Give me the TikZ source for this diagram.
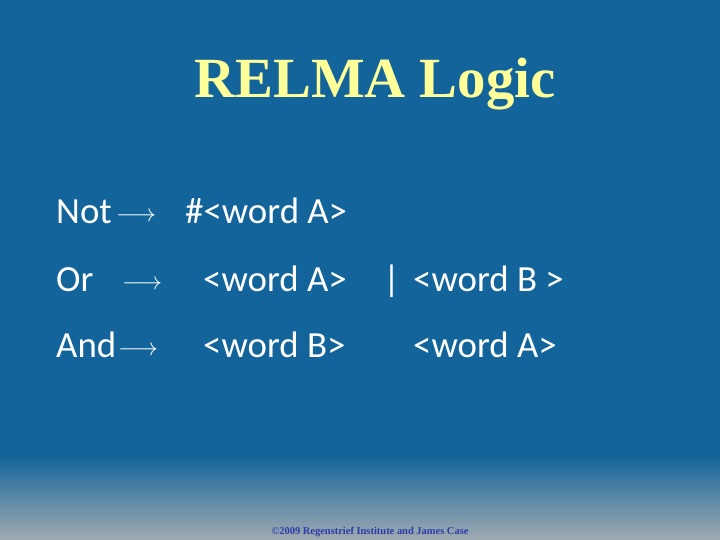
\documentclass[tikz,border=0pt]{standalone}
\usepackage{amsmath}
\usepackage{fontspec}
\setmainfont{Carlito}
\newfontfamily\titlefont{Liberation Serif}
\usetikzlibrary{positioning}
\definecolor{bg}{HTML}{12649A}
\definecolor{bot}{HTML}{A0ABB2}
\definecolor{ttl}{HTML}{FFFF99}
\definecolor{foot}{HTML}{2E3BA8}
\tikzset{body/.style={anchor=base west,inner sep=0pt,text=white,font=\fontsize{37}{44}\selectfont},
 arr/.style={anchor=base west,inner sep=0pt,text=white,font=\fontsize{40}{44}\selectfont}}
\begin{document}
\begin{tikzpicture}[x=1bp,y=-1bp]
\fill[bg] (0,0) rectangle (720,540);
\shade[top color=bg,bottom color=bot] (0,455) rectangle (720,540);
\useasboundingbox (0,0) rectangle (720,540);
\node[anchor=base,inner sep=0pt,text=ttl,font=\titlefont\bfseries\fontsize{57}{62}\selectfont] (t) at (375,98) {RELMA Logic};
\node[body] (n1) at (56,224) {Not};
\node[arr] (a1) at (116,222) {$\longrightarrow$};
\node[body] (n2) at (185,224) {\#<word A>};
\node[body] (o1) at (56,291) {Or};
\node[arr] (a2) at (122,289) {$\longrightarrow$};
\node[body] (o2) at (203,291) {<word A>};
\node[body] (o3) at (383,291) {|};
\node[body] (o4) at (413,291) {<word B >};
\node[body] (d1) at (56,357) {And};
\node[arr] (a3) at (118,355) {$\longrightarrow$};
\node[body] (d2) at (203,357) {<word B>};
\node[body] (d3) at (413,357) {<word A>};
\node[anchor=base,inner sep=0pt,text=foot,font=\titlefont\bfseries\fontsize{10.5}{12}\selectfont] (f) at (370,534) {\textcopyright 2009 Regenstrief Institute and James Case};
\end{tikzpicture}
\end{document}
